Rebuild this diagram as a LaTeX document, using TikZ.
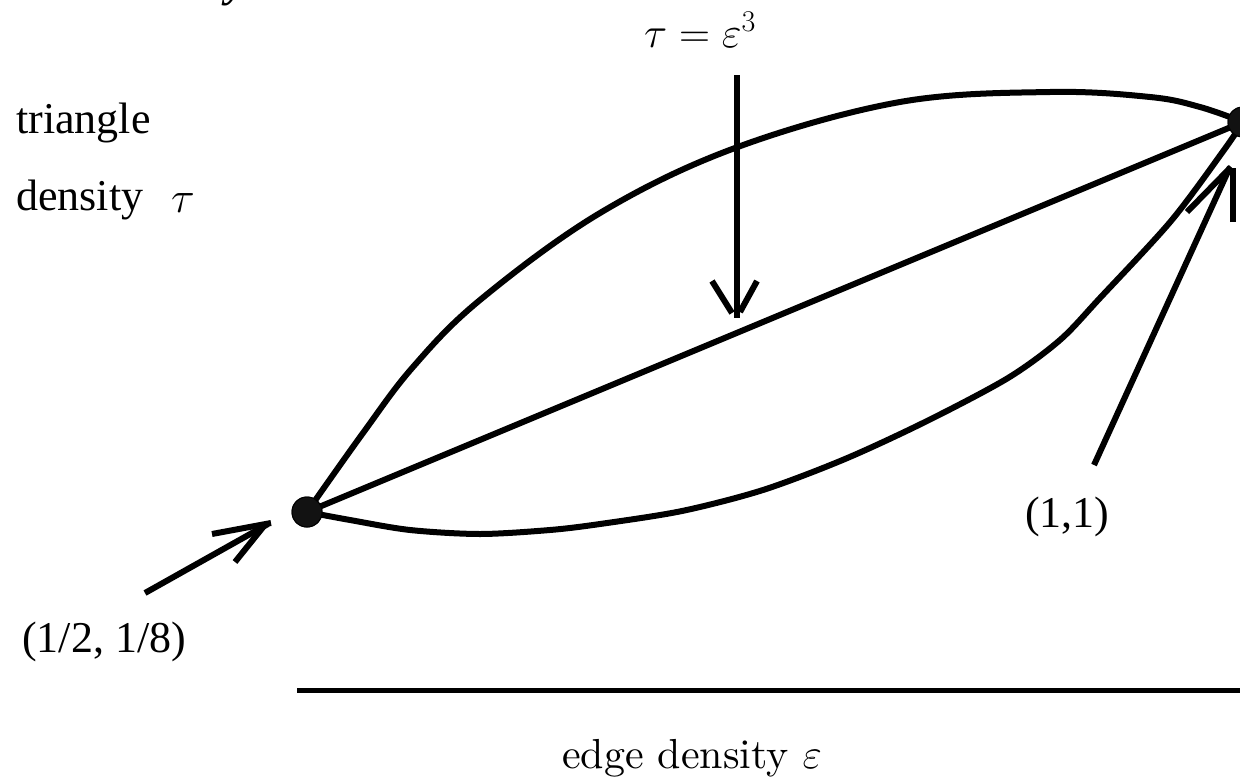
\RequirePackage{fix-cm}
\documentclass[tikz,border=0pt]{standalone}
\usepackage{fontspec}
\newfontfamily\tnr{Liberation Serif}
\newfontfamily\lmten{lmroman10-regular.otf}
\begin{document}
\begin{tikzpicture}[x=1pt,y=-1pt,
  curve/.style={line width=6pt, line cap=round, line join=round},
  arr/.style={line width=6pt},
  dot/.style={circle, fill=black!93, draw=black, line width=1pt, minimum size=30pt, inner sep=0pt},
  tlabel/.style={font=\tnr\fontsize{44}{50}\selectfont, inner sep=0pt, anchor=base west},
  cmlabel/.style={font=\lmten\fontsize{42}{48}\selectfont, inner sep=0pt, anchor=base}]
\clip (0,0) rectangle (1240,779);
% end points
\node[dot] (L) at (307,512) {};
\node[dot] (R) at (1243,122) {};
% curves
\draw[curve] plot[smooth, tension=0.6] coordinates {(L.center) (363,433) (413,367) (480,300) (600,213) (735,148) (900,102) (1050,92) (1150,97) (1200,107) (R.center)};
\draw[curve] plot[smooth, tension=0.5] coordinates {(L.center) (350,520) (410,530) (480,534) (550,530) (600,524) (682,511) (763,490) (845,459) (927,421) (1008,378) (1060,340) (1100,298) (1171,221) (1224,150) (R.center)};
\draw[curve] (L.center) -- (R.center);
\node[dot] at (L) {};
\node[dot] at (R) {};
% arrow to (1/2,1/8)
\coordinate (a1s) at (145,593);
\coordinate (a1t) at (268,524);
\coordinate (a1b) at (212,534);
\coordinate (a1c) at (235,562);
\draw[arr] (a1s) -- (a1t);
\draw[arr] (a1b) -- (271,523);
\draw[arr] (a1c) -- (264,526);
% vertical arrow
\coordinate (vs) at (737,75);
\coordinate (vt) at (737,318);
\coordinate (vb) at (712,281);
\coordinate (vc) at (757,281);
\draw[arr] (vs) -- (vt);
\draw[arr] (vb) -- (732,313);
\draw[arr] (vc) -- (740,312);
% arrow to (1,1)
\coordinate (a2s) at (1094,465);
\coordinate (a2t) at (1230,167);
\coordinate (a2b) at (1187,212);
\coordinate (a2c) at (1233,222);
\draw[arr] (a2s) -- (a2t);
\draw[arr] (a2b) -- (1231,167);
\draw[arr] (a2c) -- (1233,168);
% axis
\coordinate (ax1) at (297,690.5);
\coordinate (ax2) at (1240,690.5);
\draw[line width=5.5pt] (ax1) -- (ax2);
% labels
\node[anchor=base west, inner sep=0pt, font=\tnr\bfseries\itshape\fontsize{44}{50}\selectfont] (frag) at (226,-3) {y};
\node[tlabel] (tri) at (16,133) {triangle};
\node[tlabel] (dens) at (16,210) {density};
\node[anchor=base west, inner sep=0pt, font=\fontsize{44}{50}\selectfont] (tau) at (171,212) {$\tau$};
\node[cmlabel, font=\lmten\fontsize{43}{48}\selectfont] (eq) at (700,47) {$\tau=\varepsilon^3$};
\node[cmlabel] (xl) at (692,768) {edge density $\varepsilon$};
\node[tlabel] (p1) at (22,652) {(1/2, 1/8)};
\node[tlabel] (p2) at (1025,527) {(1,1)};
\end{tikzpicture}
\end{document}
